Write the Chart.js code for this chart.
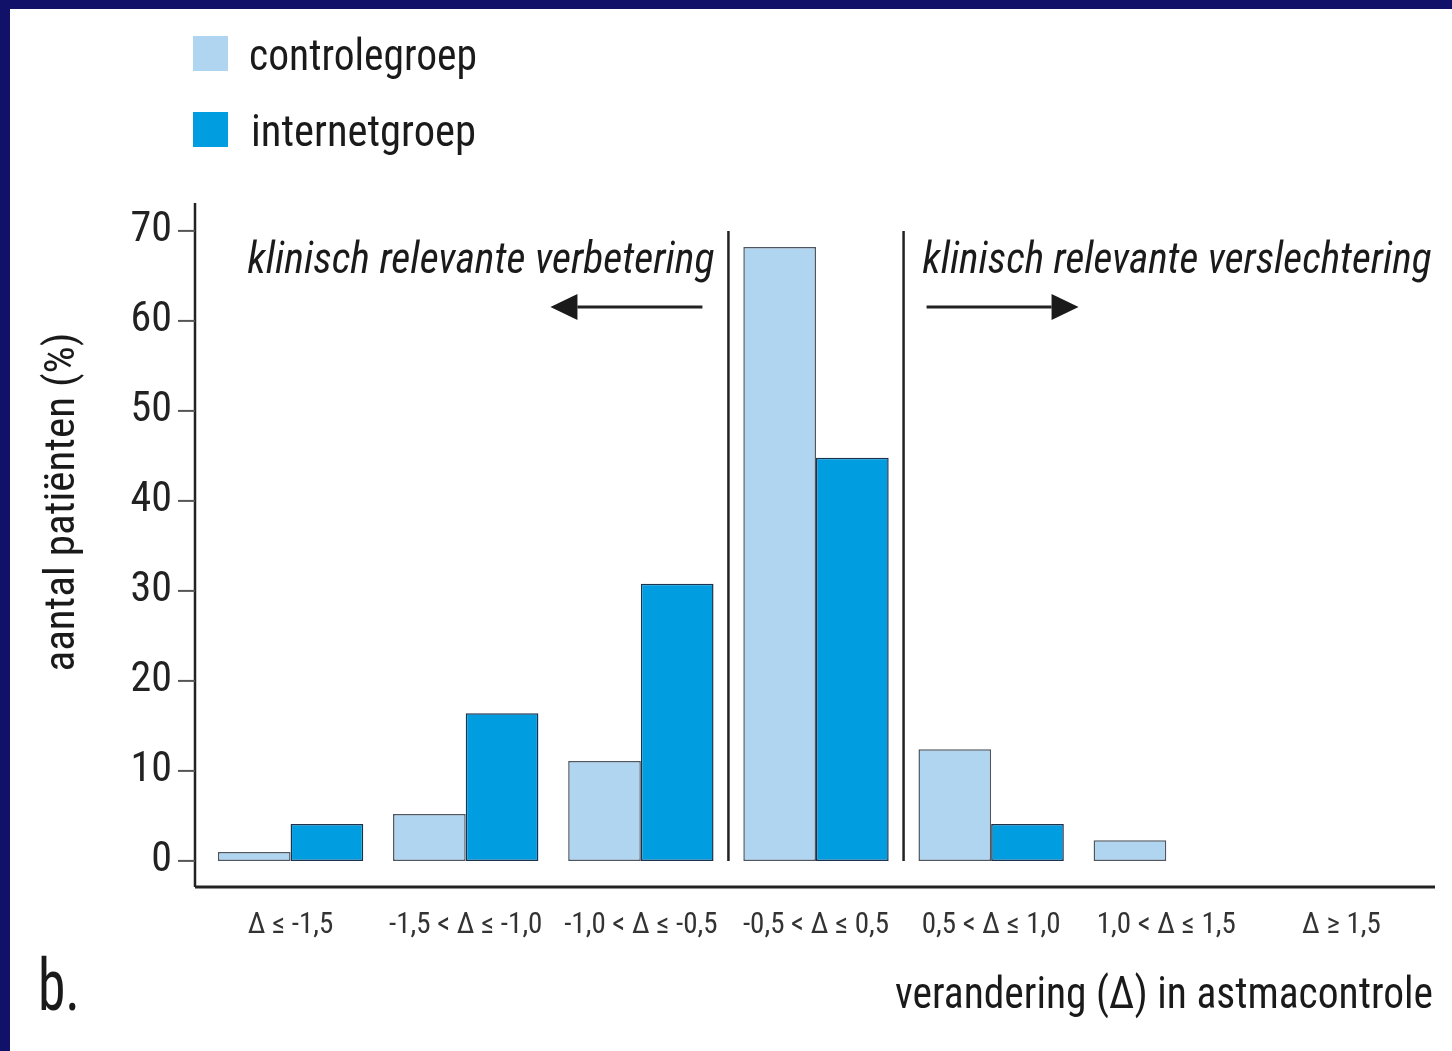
<!DOCTYPE html>
<html lang="nl">
<head>
  <meta charset="UTF-8" />
  <title>Verandering in astmacontrole</title>
  <script src="https://cdn.jsdelivr.net/npm/chart.js"></script>
  <style>
    html, body {
      margin: 0;
      padding: 0;
      width: 1452px;
      height: 1051px;
      overflow: hidden;
      background: #11116a;
    }
    .panel {
      position: absolute;
      left: 10px;
      top: 9px;
      width: 1442px;
      height: 1042px;
      background: #fff;
    }
    canvas { display: block; }
  </style>
</head>
<body>
  <div class="panel">
    <canvas id="astmaChart" width="1442" height="1042"></canvas>
  </div>

  <script>
    const categories = ['Δ ≤ -1,5', '-1,5 < Δ ≤ -1,0', '-1,0 < Δ ≤ -0,5', '-0,5 < Δ ≤ 0,5', '0,5 < Δ ≤ 1,0', '1,0 < Δ ≤ 1,5', 'Δ ≥ 1,5'];
    const controlegroep = [1.0, 5.2, 11.1, 68.2, 12.4, 2.3, 0];
    const internetgroep = [4.1, 16.4, 30.8, 44.8, 4.1, 0, 0];
    const yTicks = [0, 10, 20, 30, 40, 50, 60, 70];

    const NARROW = '"Roboto Condensed", "Liberation Sans Narrow", "DejaVu Sans Condensed", sans-serif';

    // draw text squeezed/stretched to a given width
    function fitText(ctx, text, x, y, font, width, align) {
      ctx.save();
      ctx.font = font;
      const w = ctx.measureText(text).width;
      ctx.translate(x, y);
      ctx.scale(width / w, 1);
      ctx.textAlign = align;
      ctx.textBaseline = 'alphabetic';
      ctx.fillText(text, 0, 0);
      ctx.restore();
    }

    function line(ctx, x1, y1, x2, y2) {
      ctx.beginPath();
      ctx.moveTo(x1, y1);
      ctx.lineTo(x2, y2);
      ctx.stroke();
    }

    function arrow(ctx, from, to, yPos) {
      const dir = Math.sign(to - from);
      const headLen = 27, headHalf = 13;
      ctx.lineWidth = 3;
      line(ctx, from, yPos, to - dir * headLen, yPos);
      ctx.beginPath();
      ctx.moveTo(to, yPos);
      ctx.lineTo(to - dir * headLen, yPos - headHalf);
      ctx.lineTo(to - dir * headLen, yPos + headHalf);
      ctx.closePath();
      ctx.fill();
    }

    const decorations = {
      id: 'decorations',
      afterDatasetsDraw(chart) {
        const { ctx, chartArea, scales: { x, y } } = chart;
        const axisX = chartArea.left - 8;
        ctx.save();
        ctx.strokeStyle = '#222';
        ctx.fillStyle = '#1a1a1a';

        // axes
        ctx.lineWidth = 2.5;
        line(ctx, axisX, chartArea.top, axisX, chartArea.bottom);
        ctx.lineWidth = 3;
        line(ctx, axisX, chartArea.bottom, chartArea.right + 6, chartArea.bottom);

        // y tick marks
        ctx.lineWidth = 2;
        ctx.strokeStyle = '#555';
        yTicks.forEach(v => {
          const py = y.getPixelForValue(v);
          line(ctx, axisX - 17, py, axisX, py);
        });

        // separators around the middle category
        const half = (x.getPixelForValue(1) - x.getPixelForValue(0)) / 2;
        const sepL = x.getPixelForValue(3) - half;
        const sepR = x.getPixelForValue(3) + half;
        ctx.strokeStyle = '#222';
        ctx.lineWidth = 2.5;
        line(ctx, sepL, y.getPixelForValue(70), sepL, y.getPixelForValue(0));
        line(ctx, sepR, y.getPixelForValue(70), sepR, y.getPixelForValue(0));

        // annotations
        ctx.fillStyle = '#1a1a1a';
        fitText(ctx, 'klinisch relevante verbetering', sepL - 14, 264, 'italic 44px ' + NARROW, 467, 'right');
        fitText(ctx, 'klinisch relevante verslechtering', sepR + 19, 264, 'italic 44px ' + NARROW, 509, 'left');
        arrow(ctx, sepL - 26, sepL - 178, 298);
        arrow(ctx, sepR + 23, sepR + 175, 298);

        // legend
        chart.data.datasets.forEach((ds, i) => {
          const top = 27 + i * 76;
          ctx.fillStyle = ds.backgroundColor;
          ctx.fillRect(183, top, 35, 35);
          ctx.fillStyle = '#1a1a1a';
          fitText(ctx, ds.label, 239 + i * 2, top + 34, '44px ' + NARROW, 228 - i * 3, 'left');
        });

        // y title
        ctx.save();
        ctx.translate(64, 493);
        ctx.rotate(-Math.PI / 2);
        fitText(ctx, 'aantal patiënten (%)', 0, 0, '42px ' + NARROW, 339, 'center');
        ctx.restore();

        // x title
        fitText(ctx, 'verandering (Δ) in astmacontrole', 1423, 999, '44px ' + NARROW, 538, 'right');

        // panel letter
        fitText(ctx, 'b.', 28, 1001, '72px ' + NARROW, 42, 'left');

        ctx.restore();
      }
    };

    const chart = new Chart(document.getElementById('astmaChart'), {
      type: 'bar',
      data: {
        labels: categories,
        datasets: [
          {
            label: 'controlegroep',
            data: controlegroep,
            backgroundColor: '#afd5f1',
            borderColor: '#4f5860',
            borderWidth: c => (c.raw > 0 ? 1.5 : 0),
            borderSkipped: false
          },
          {
            label: 'internetgroep',
            data: internetgroep,
            backgroundColor: '#009ee0',
            borderColor: '#1c3350',
            borderWidth: c => (c.raw > 0 ? 1.5 : 0),
            borderSkipped: false
          }
        ]
      },
      options: {
        responsive: false,
        animation: false,
        layout: { padding: { top: 194, right: 23, bottom: 0, left: 0 } },
        datasets: { bar: { categoryPercentage: 0.83, barPercentage: 1.0 } },
        plugins: {
          legend: { display: false },
          tooltip: { enabled: false }
        },
        scales: {
          x: {
            grid: { display: false },
            border: { display: false },
            ticks: {
              autoSkip: false,
              maxRotation: 0,
              color: '#333',
              font: { family: NARROW, size: 29 },
              padding: 13
            },
            afterFit: s => { s.height = 164; }
          },
          y: {
            min: -2.9,
            max: 73.1,
            grid: { display: false },
            border: { display: false },
            afterBuildTicks: s => { s.ticks = yTicks.map(v => ({ value: v })); },
            ticks: {
              color: '#222',
              font: { family: NARROW, size: 42 },
              padding: 23
            },
            afterFit: s => { s.width = 193; }
          }
        }
      },
      plugins: [decorations]
    });
  </script>
</body>
</html>
